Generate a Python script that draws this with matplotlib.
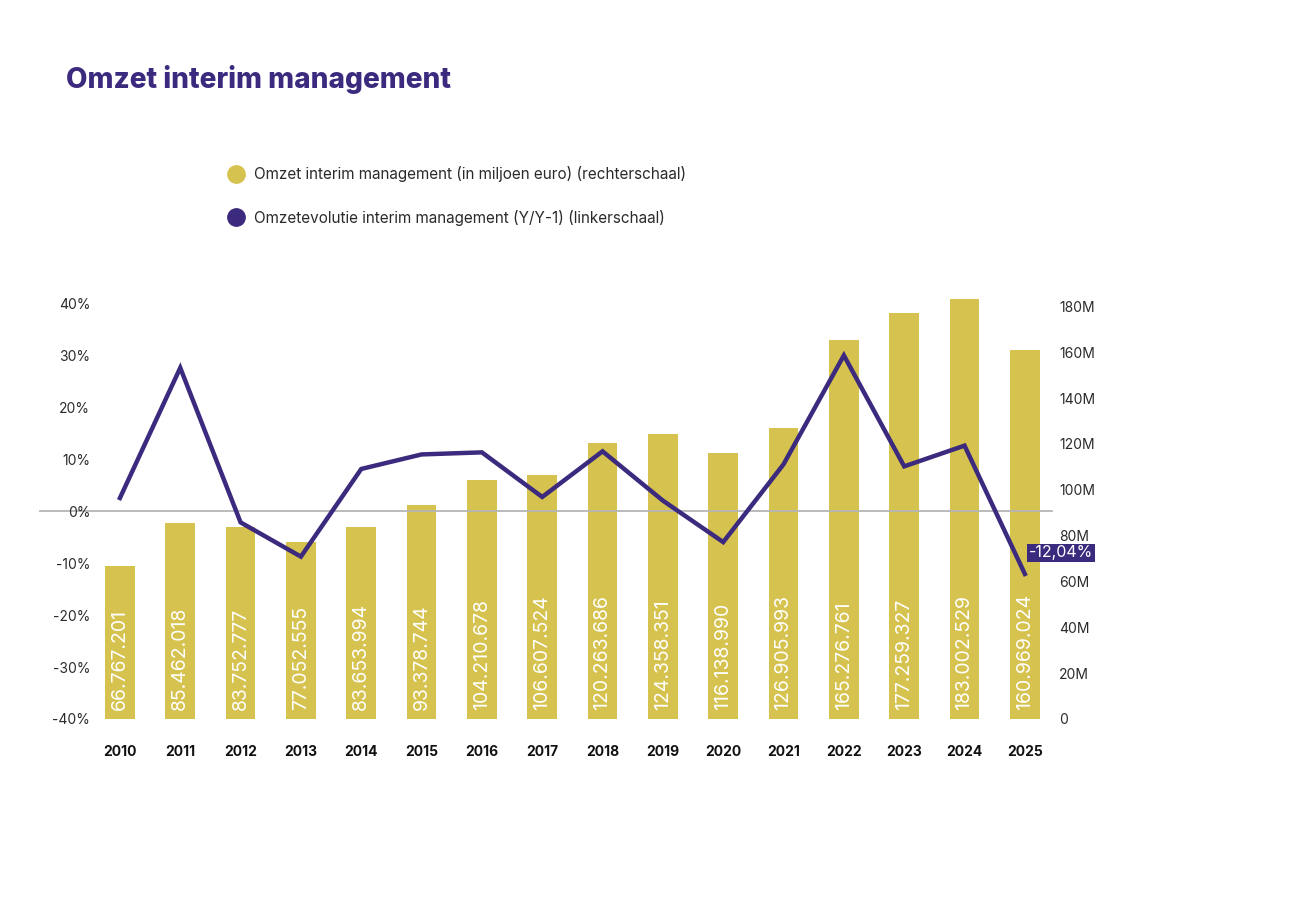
import matplotlib
matplotlib.use("Agg")
import matplotlib.pyplot as plt
from matplotlib.lines import Line2D
import numpy as np

years = ["2010", "2011", "2012", "2013", "2014", "2015", "2016", "2017",
         "2018", "2019", "2020", "2021", "2022", "2023", "2024", "2025"]
revenue = [66767201, 85462018, 83752777, 77052555, 83653994, 93378744,
           104210678, 106607524, 120263686, 124358351, 116138990, 126905993,
           165276761, 177259327, 183002529, 160969024]
growth = [2.6, 27.7, -2.1, -8.7, 8.2, 11.0, 11.4, 2.8, 11.6, 2.1, -5.9, 9.1,
          30.1, 8.7, 12.7, -12.04]
left_ticks = [-40, -30, -20, -10, 0, 10, 20, 30, 40]
right_ticks = [0, 20, 40, 60, 80, 100, 120, 140, 160, 180]

BAR = "#d6c24e"
LINE = "#3b2a7d"
TXT = "#2b2b2b"

plt.rcParams['font.family'] = ['Inter', 'DejaVu Sans']

fig = plt.figure(figsize=(13, 9.09), dpi=100)
W, H = 1300, 909
ax_l, ax_r, ax_t, ax_b = 97, 1052, 304, 719
ax = fig.add_axes([ax_l / W, 1 - ax_b / H, (ax_r - ax_l) / W, (ax_b - ax_t) / H])
ax2 = ax.twinx()

x = np.arange(len(years))
rev_m = np.array(revenue) / 1e6

# bars on right axis
bars = ax2.bar(x, rev_m, width=0.49, color=BAR, zorder=1)
for b in bars:
    b.set_clip_on(False)
ax2.set_ylim(0, 181)
for xi, v in zip(x, revenue):
    s = f"{v:,}".replace(",", ".")
    ax2.text(xi, 4, s, rotation=90, ha="center", va="bottom", color="white",
             fontsize=14, zorder=3)

# line on left axis (draw above bars)
ax.set_zorder(ax2.get_zorder() + 1)
ax.patch.set_visible(False)
ax.axhline(0, xmin=-0.06, xmax=1.0, color="#b5b5b5", lw=1.3, clip_on=False, zorder=1)
ax.plot(x, growth, color=LINE, lw=3.2, solid_joinstyle="miter", zorder=3)
ax.set_ylim(-40, 40)
ax.set_xlim(-0.38, 15.45)

ax.set_yticks(left_ticks)
ax.set_yticklabels([f"{t}%" for t in left_ticks])
ax2.set_yticks(right_ticks)
ax2.set_yticklabels(["0" if t == 0 else f"{t}M" for t in right_ticks])
ax.set_xticks(x)
ax.set_xticklabels(years, fontweight="bold")

for a in (ax, ax2):
    for sp in a.spines.values():
        sp.set_visible(False)
ax.tick_params(axis="y", length=0, pad=5, labelsize=10, labelcolor=TXT)
ax2.tick_params(axis="y", length=0, pad=5, labelsize=10, labelcolor=TXT)
ax.tick_params(axis="x", length=0, pad=19, labelsize=10, labelcolor="#111111")

# annotation for last value
ax.annotate("-12,04%", xy=(x[-1], growth[-1]), xytext=(36, 21), textcoords="offset pixels",
            ha="center", va="center", color="white", fontsize=11.5,
            bbox=dict(boxstyle="square,pad=0.12", fc=LINE, ec="none"), zorder=5,
            annotation_clip=False)

# title
fig.text(66 / W, 1 - 80 / H, "Omzet interim management", fontsize=20.1, fontweight="heavy",
         color=LINE, ha="left", va="center")

# legend
handles = [Line2D([], [], marker="o", ls="none", ms=12.5, mfc=BAR, mec=BAR),
           Line2D([], [], marker="o", ls="none", ms=12.5, mfc=LINE, mec=LINE)]
labels = ["Omzet interim management (in miljoen euro) (rechterschaal)",
          "Omzetevolutie interim management (Y/Y-1) (linkerschaal)"]
fig.legend(handles, labels, loc="upper left", bbox_to_anchor=(221 / W, 1 - 166 / H),
           frameon=False, fontsize=11, labelspacing=1.8, handletextpad=0.15,
           borderaxespad=0, borderpad=0, labelcolor=TXT)

fig.savefig("out.png", dpi=100, facecolor="white")
